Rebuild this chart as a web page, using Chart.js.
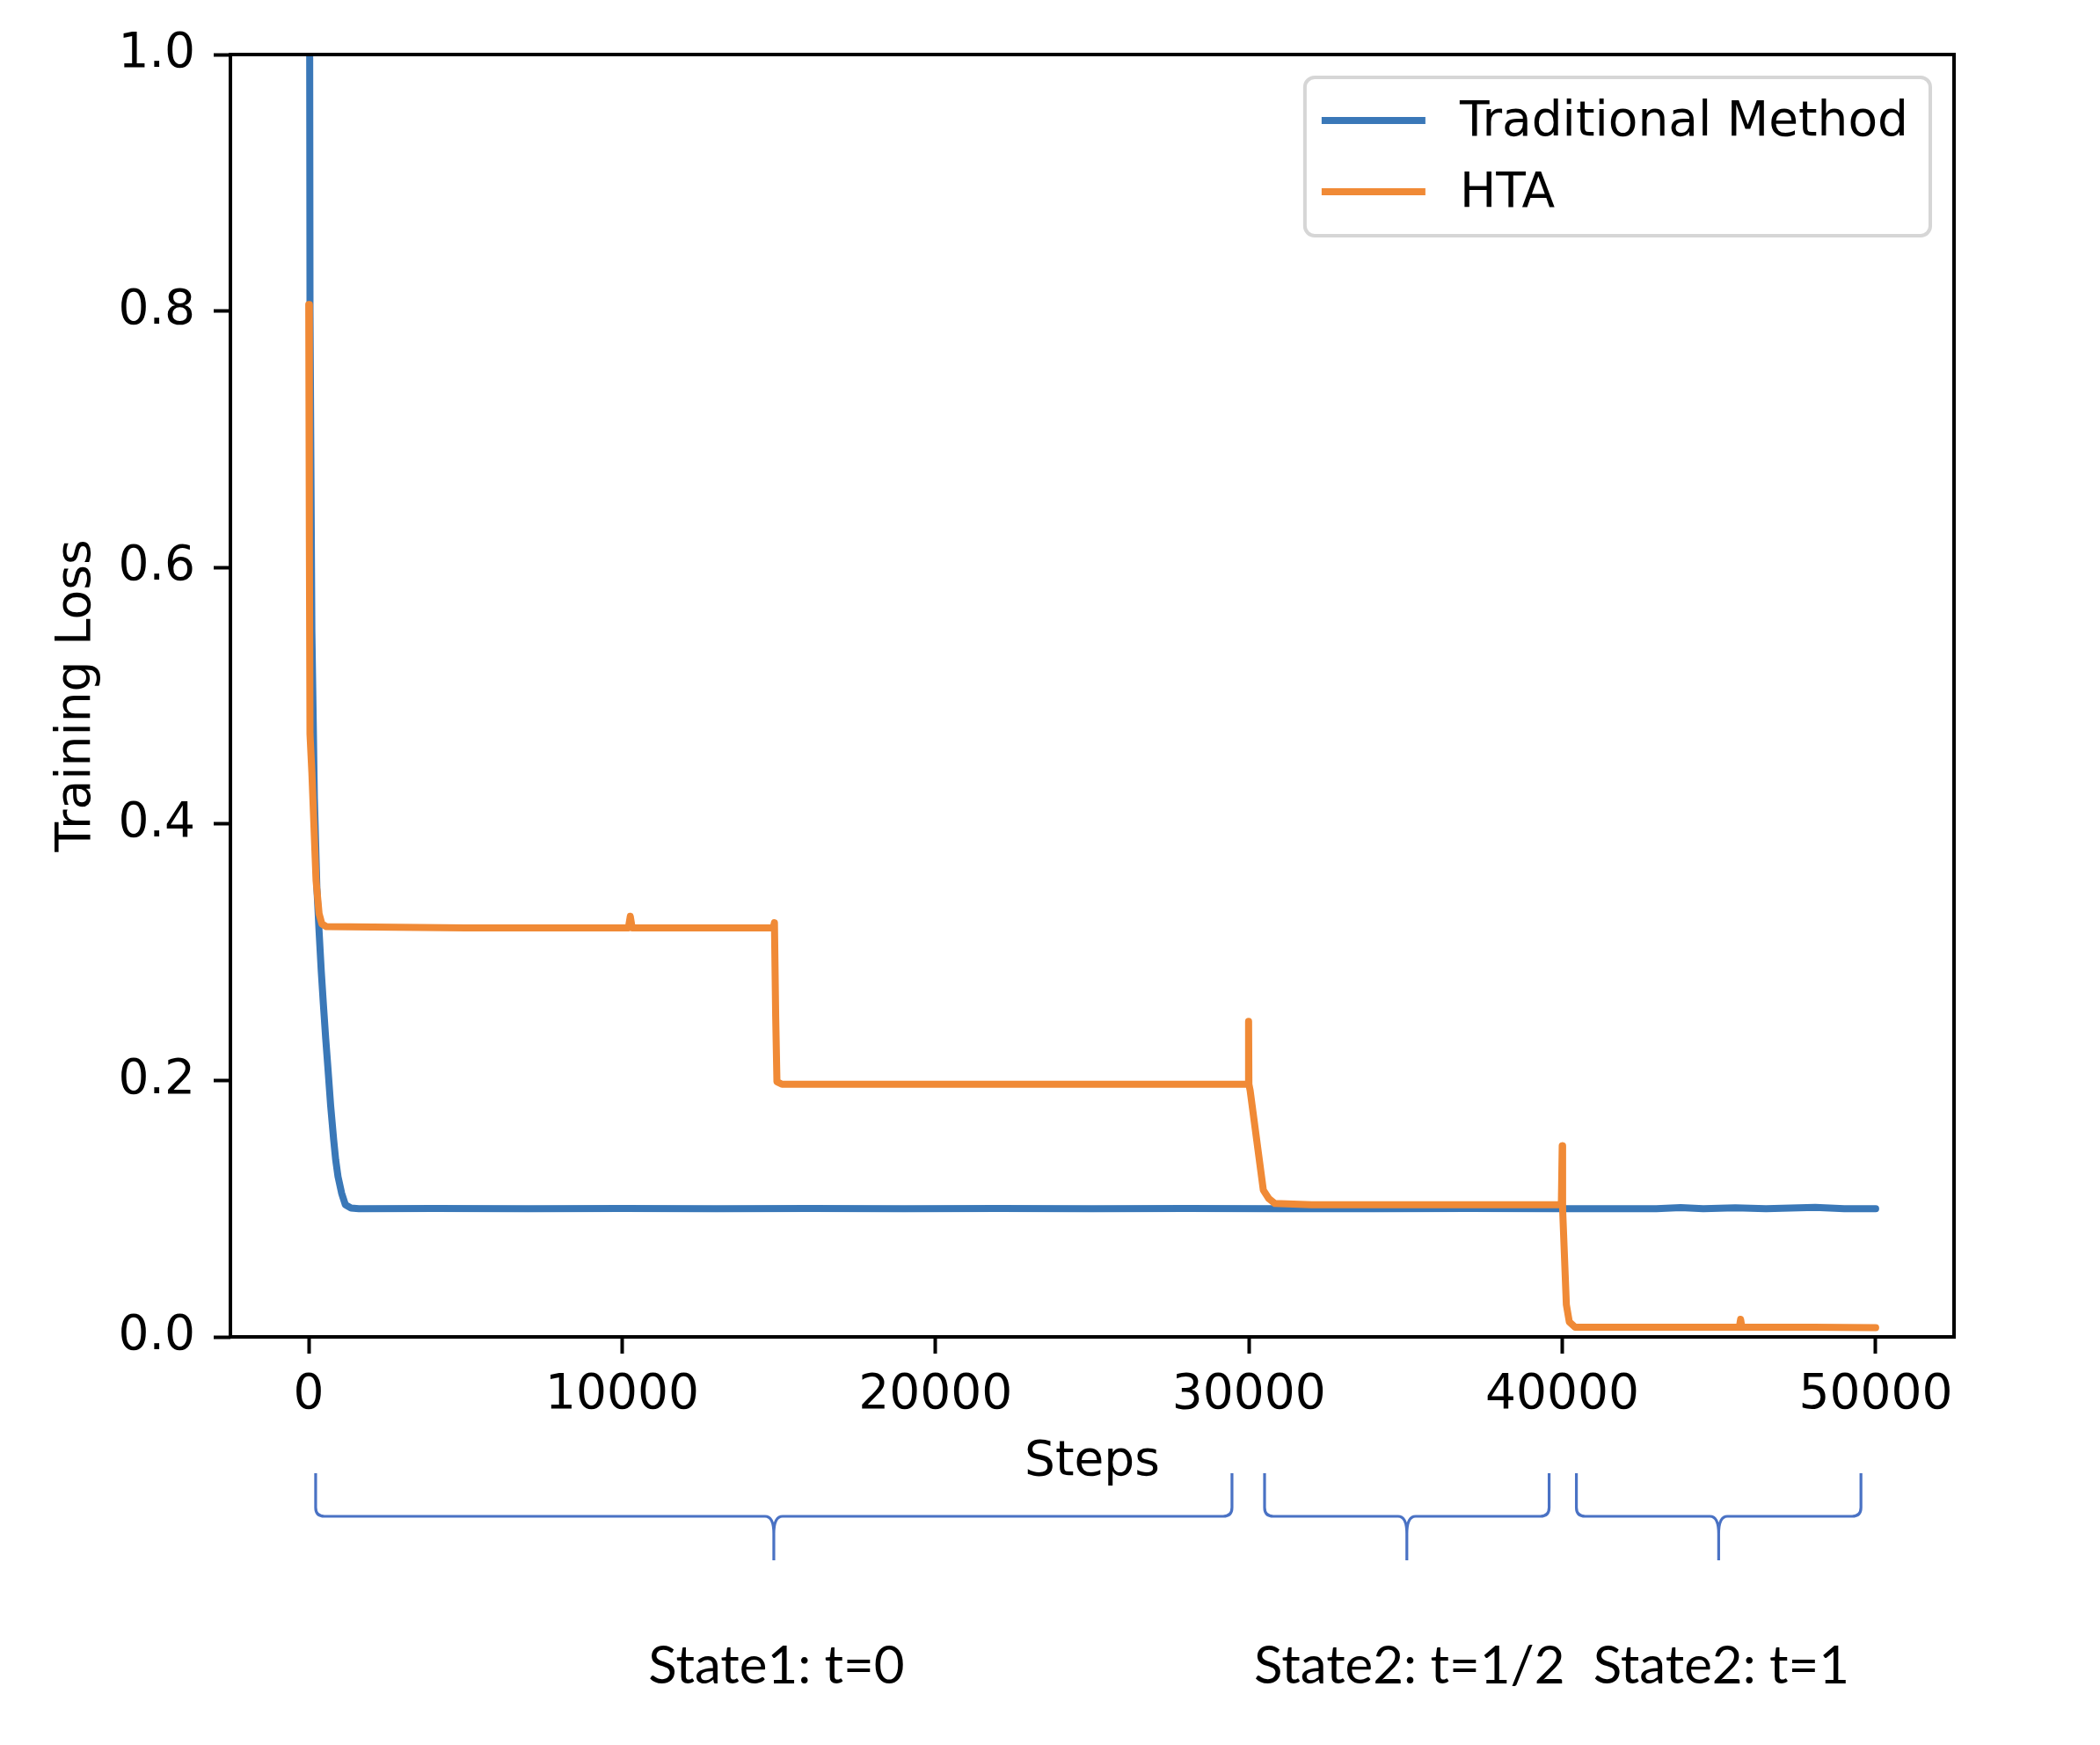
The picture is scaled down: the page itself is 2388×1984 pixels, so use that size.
<!DOCTYPE html>
<html>
<head>
<meta charset="utf-8">
<script src="https://cdn.jsdelivr.net/npm/chart.js@4.4.1/dist/chart.umd.min.js"></script>
<style>
  html, body { margin: 0; padding: 0; background: #fff; }
  #wrap { width: 2388px; height: 1984px; position: relative; }
</style>
</head>
<body>
<div id="wrap"><canvas id="lossChart"></canvas></div>
<script>
// values
const seriesNames = ['Traditional Method', 'HTA'];

const tradSteps = [0, 40, 100, 180, 260, 328, 400, 468, 540, 608, 700, 794, 860, 934, 1050, 1168, 1350, 1600,
  4000, 7000, 10000, 13000, 16000, 19000, 22000, 25000, 28000, 31000, 34000, 37000, 40000, 43000, 43780, 44500,
  45520, 46500, 48070, 49000, 50000];
const tradLoss = [1.6, 0.8, 0.55, 0.42, 0.35, 0.317, 0.285, 0.259, 0.233, 0.211, 0.18, 0.154, 0.138, 0.125, 0.112, 0.103, 0.1005, 0.100,
  0.1002, 0.0999, 0.1001, 0.1000, 0.1002, 0.0999, 0.1001, 0.1000, 0.1001, 0.1000, 0.0999, 0.1001, 0.1000, 0.0999, 0.1008, 0.0999,
  0.1007, 0.1000, 0.1010, 0.0999, 0.1000];

const htaSteps = [0, 20, 40, 100, 233, 330, 420, 560, 5000, 10200, 10260, 10320, 14820, 14860, 14900, 14940, 15100,
  22000, 29980, 29990, 30000, 30040, 30460, 30640, 30830, 32000, 36000, 39970, 39998, 40010, 40130, 40225, 40410,
  43000, 45650, 45690, 45730, 48000, 50000];
const htaLoss = [0.805, 0.62, 0.47, 0.44, 0.356, 0.33, 0.322, 0.320, 0.319, 0.319, 0.328, 0.319, 0.319, 0.323, 0.25, 0.199, 0.197,
  0.197, 0.197, 0.246, 0.197, 0.192, 0.1145, 0.1077, 0.104, 0.103, 0.103, 0.103, 0.149, 0.100, 0.0251, 0.0116, 0.0075,
  0.0075, 0.0076, 0.0137, 0.0076, 0.0075, 0.0072];

const xTicks = [0, 10000, 20000, 30000, 40000, 50000];
const yTicks = [0, 0.2, 0.4, 0.6, 0.8, 1.0];

// braces under the axis
const stateStart = [220, 30500, 40450];
const stateEnd = [29460, 39580, 49530];
const stateLabels = ['State1: t=0', 'State2: t=1/2', 'State2: t=1'];

const lineColors = ['#3a78b8', '#f08a36'];
const mplFont = 'DejaVu Sans';

function toPoints(xs, ys) {
  return xs.map((x, i) => ({x: x, y: ys[i]}));
}

const framePlugin = {
  id: 'frame',
  afterDatasetsDraw(chart) {
    const {ctx, chartArea: a} = chart;
    ctx.save();
    ctx.strokeStyle = '#000';
    ctx.lineWidth = 4;
    ctx.strokeRect(a.left, a.top, a.right - a.left, a.bottom - a.top);
    ctx.restore();
  }
};

// matplotlib-style legend box in upper right
const legendPlugin = {
  id: 'mplLegend',
  afterDraw(chart) {
    const {ctx, chartArea: a} = chart;
    const fs = 55;
    ctx.save();
    ctx.font = fs + 'px "' + mplFont + '"';
    const sets = chart.data.datasets;
    let maxW = 0;
    sets.forEach(d => { maxW = Math.max(maxW, ctx.measureText(d.label).width); });
    const handleX = 19, handleLen = 118, textX = 176, rowH = 81;
    const w = textX + maxW + 25;
    const h = 180;
    const right = a.right - 27;
    const top = a.top + 26;
    const left = right - w;
    ctx.beginPath();
    ctx.roundRect(left, top, w, h, 11);
    ctx.fillStyle = 'rgba(255,255,255,0.8)';
    ctx.fill();
    ctx.strokeStyle = '#d6d6d6';
    ctx.lineWidth = 4;
    ctx.stroke();
    sets.forEach((d, i) => {
      const y = top + 49 + i * rowH;
      ctx.beginPath();
      ctx.moveTo(left + handleX, y);
      ctx.lineTo(left + handleX + handleLen, y);
      ctx.strokeStyle = d.borderColor;
      ctx.lineWidth = 8;
      ctx.stroke();
      ctx.fillStyle = '#000';
      ctx.textBaseline = 'middle';
      ctx.textAlign = 'left';
      ctx.fillText(d.label, left + textX, y + 3);
    });
    ctx.restore();
  }
};

const bracePlugin = {
  id: 'braces',
  afterDraw(chart) {
    const {ctx} = chart;
    const xs = chart.scales.x;
    const y0 = 1675, y1 = 1724, y2 = 1774, r = 10;
    ctx.save();
    ctx.strokeStyle = '#4a72c4';
    ctx.lineWidth = 3.2;
    ctx.lineJoin = 'round';
    stateLabels.forEach((lab, i) => {
      const x1 = xs.getPixelForValue(stateStart[i]);
      const x2 = xs.getPixelForValue(stateEnd[i]);
      const m = (x1 + x2) / 2;
      ctx.beginPath();
      ctx.moveTo(x1, y0);
      ctx.lineTo(x1, y1 - r);
      ctx.quadraticCurveTo(x1, y1, x1 + r, y1);
      ctx.lineTo(m - r, y1);
      ctx.quadraticCurveTo(m, y1, m, y1 + 2 * r);
      ctx.lineTo(m, y2);
      ctx.moveTo(m, y1 + 2 * r);
      ctx.quadraticCurveTo(m, y1, m + r, y1);
      ctx.lineTo(x2 - r, y1);
      ctx.quadraticCurveTo(x2, y1, x2, y1 - r);
      ctx.lineTo(x2, y0);
      ctx.stroke();

      ctx.fillStyle = '#000';
      ctx.font = '60px Lato';
      ctx.textAlign = 'center';
      ctx.textBaseline = 'alphabetic';
      ctx.fillText(lab, m + 3, 1914);
    });
    ctx.restore();
  }
};

const chart = new Chart(document.getElementById('lossChart'), {
  type: 'line',
  data: {
    datasets: [
      {
        label: seriesNames[0],
        data: toPoints(tradSteps, tradLoss),
        borderColor: lineColors[0],
        order: 1
      },
      {
        label: seriesNames[1],
        data: toPoints(htaSteps, htaLoss),
        borderColor: lineColors[1],
        order: 0
      }
    ]
  },
  options: {
    responsive: true,
    maintainAspectRatio: false,
    devicePixelRatio: 1,
    animation: false,
    events: [],
    layout: {padding: {left: 55, right: 166, top: 62, bottom: 288}},
    elements: {
      point: {radius: 0},
      line: {borderWidth: 8, tension: 0, fill: false, borderJoinStyle: 'round', borderCapStyle: 'round'}
    },
    datasets: {line: {clip: 0}},
    plugins: {legend: {display: false}, tooltip: {enabled: false}},
    scales: {
      x: {
        type: 'linear',
        min: -2500,
        max: 52500,
        afterBuildTicks(scale) { scale.ticks = xTicks.map(v => ({value: v})); },
        afterFit(scale) { scale.height = 176; },
        border: {display: false},
        grid: {drawOnChartArea: false, drawTicks: true, tickLength: 19, tickWidth: 4, tickColor: '#000'},
        ticks: {
          color: '#000',
          padding: 15,
          maxRotation: 0,
          font: {family: mplFont, size: 55},
          callback: v => String(v)
        },
        title: {display: true, text: 'Steps', color: '#000', padding: 0, font: {family: mplFont, size: 55}}
      },
      y: {
        type: 'linear',
        min: 0,
        max: 1.0,
        afterBuildTicks(scale) { scale.ticks = yTicks.map(v => ({value: v})); },
        afterFit(scale) { scale.width = 207; },
        border: {display: false},
        grid: {drawOnChartArea: false, drawTicks: true, tickLength: 19, tickWidth: 4, tickColor: '#000'},
        ticks: {
          color: '#000',
          padding: 21,
          font: {family: mplFont, size: 55},
          callback: v => v.toFixed(1)
        },
        title: {display: true, text: 'Training Loss', color: '#000', padding: 0, font: {family: mplFont, size: 55}}
      }
    }
  },
  plugins: [framePlugin, legendPlugin, bracePlugin]
});
</script>
</body>
</html>
